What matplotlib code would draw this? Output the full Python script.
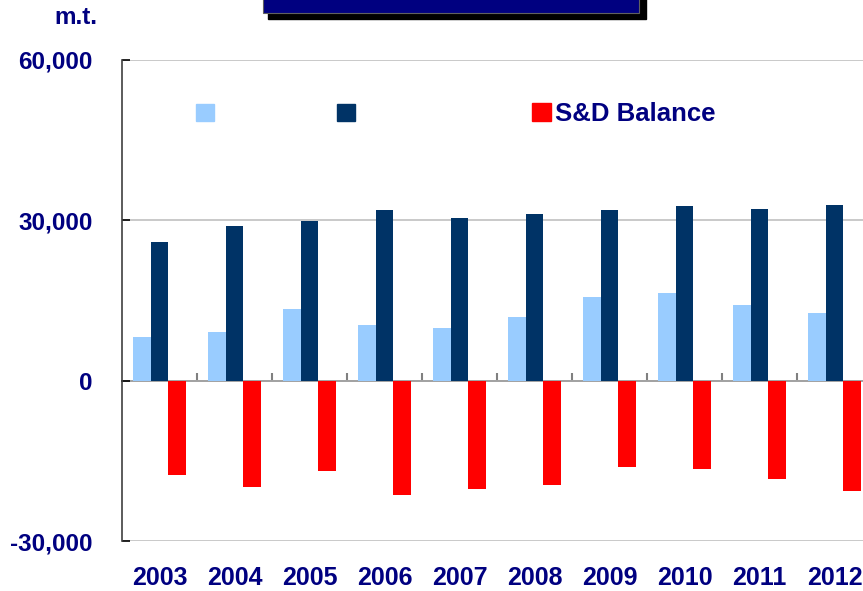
import matplotlib
matplotlib.use("Agg")
import matplotlib.pyplot as plt
from matplotlib.patches import Rectangle, Patch
from matplotlib.ticker import FuncFormatter
import numpy as np

plt.rcParams['font.family'] = ['Liberation Sans', 'DejaVu Sans']

years = ['2003', '2004', '2005', '2006', '2007', '2008', '2009', '2010', '2011', '2012']
supply = [8200, 9100, 13400, 10400, 9900, 11900, 15600, 16400, 14100, 12600]
demand = [26000, 29000, 29900, 32000, 30500, 31200, 32000, 32700, 32200, 32900]
balance = [-17700, -19900, -16900, -21400, -20300, -19500, -16200, -16500, -18400, -20600]
yticks = [-30000, 0, 30000, 60000]
legend_labels = ['', '', 'S&D Balance']
unit_label = 'm.t.'

c_supply = '#99CCFF'
c_demand = '#003366'
c_balance = '#FF0000'
c_text = '#000080'

fig = plt.figure(figsize=(8.63, 5.91), dpi=100)
ax = fig.add_axes([122 / 863, 1 - 541 / 591, 750 / 863, 481 / 591])

x = np.arange(len(years))
w = 0.235
ax.bar(x - w, supply, w, color=c_supply, zorder=3)
ax.bar(x, demand, w, color=c_demand, zorder=3)
ax.bar(x + w, balance, w, color=c_balance, zorder=3)

ax.set_xlim(-0.5, len(years) - 0.5)
ax.set_ylim(-30000, 60000)
ax.set_yticks(yticks)
ax.yaxis.set_major_formatter(FuncFormatter(lambda v, p: f"{int(v):,}"))
ax.grid(axis='y', color='#C0C0C0', linewidth=1.2, zorder=0)
ax.set_axisbelow(True)

for s in ['top', 'right', 'bottom']:
    ax.spines[s].set_visible(False)
ax.spines['left'].set_color('#404040')
ax.spines['left'].set_linewidth(1.2)

ax.tick_params(axis='y', direction='in', length=6, width=1.2, color='black',
               pad=21, labelsize=17.5, labelcolor=c_text)
for t in ax.get_yticklabels():
    t.set_fontweight('bold')

ax.set_xticks(x)
ax.set_xticklabels(years, fontsize=18, fontweight='bold', color=c_text)
ax.tick_params(axis='x', length=0, pad=18)

# zero (category) axis with boundary ticks
sec = ax.secondary_xaxis(1 / 3)
sec.set_xticks(np.arange(len(years)) + 0.5)
sec.set_xticklabels([])
sec.tick_params(axis='x', direction='in', length=6, width=1.5, color='#808080')
sec.spines['bottom'].set_color('black')
sec.spines['bottom'].set_linewidth(1.3)
sec.spines['bottom'].set_zorder(5)

# legend
ytop = 1 - (104 - 60) / 481
h = [Patch(color=c_supply), Patch(color=c_demand)]
leg1 = ax.legend(h, legend_labels[:2], ncol=2, loc='upper left',
                 bbox_to_anchor=((196 - 122) / 750, ytop),
                 frameon=False, handlelength=0.76, handleheight=0.76,
                 columnspacing=5.2, handletextpad=0.0,
                 fontsize=17, borderpad=0, borderaxespad=0)
ax.add_artist(leg1)
leg2 = ax.legend([Patch(color=c_balance)], legend_labels[2:], loc='upper left',
                 bbox_to_anchor=((532 - 122) / 750, ytop + 0.004),
                 frameon=False, handlelength=0.72, handleheight=0.72,
                 handletextpad=0.16, prop={'size': 18.5, 'weight': 'bold'},
                 borderpad=0, borderaxespad=0)
for t in leg2.get_texts():
    t.set_color(c_text)

# unit label
fig.text(54 / 863, 1 - 24 / 591, unit_label, fontsize=17.5, fontweight='bold',
         color=c_text, ha='left', va='baseline')

# title box with shadow
fig.patches.append(Rectangle((268 / 863, 1 - 19 / 591), 378 / 863, 0.05,
                             transform=fig.transFigure, color='black', zorder=1))
fig.patches.append(Rectangle((263 / 863, 1 - 13.3 / 591), 376 / 863, 0.05,
                             transform=fig.transFigure, facecolor='#000080',
                             edgecolor='#606060', linewidth=0.8, zorder=2))

fig.savefig('out.png', dpi=100)
